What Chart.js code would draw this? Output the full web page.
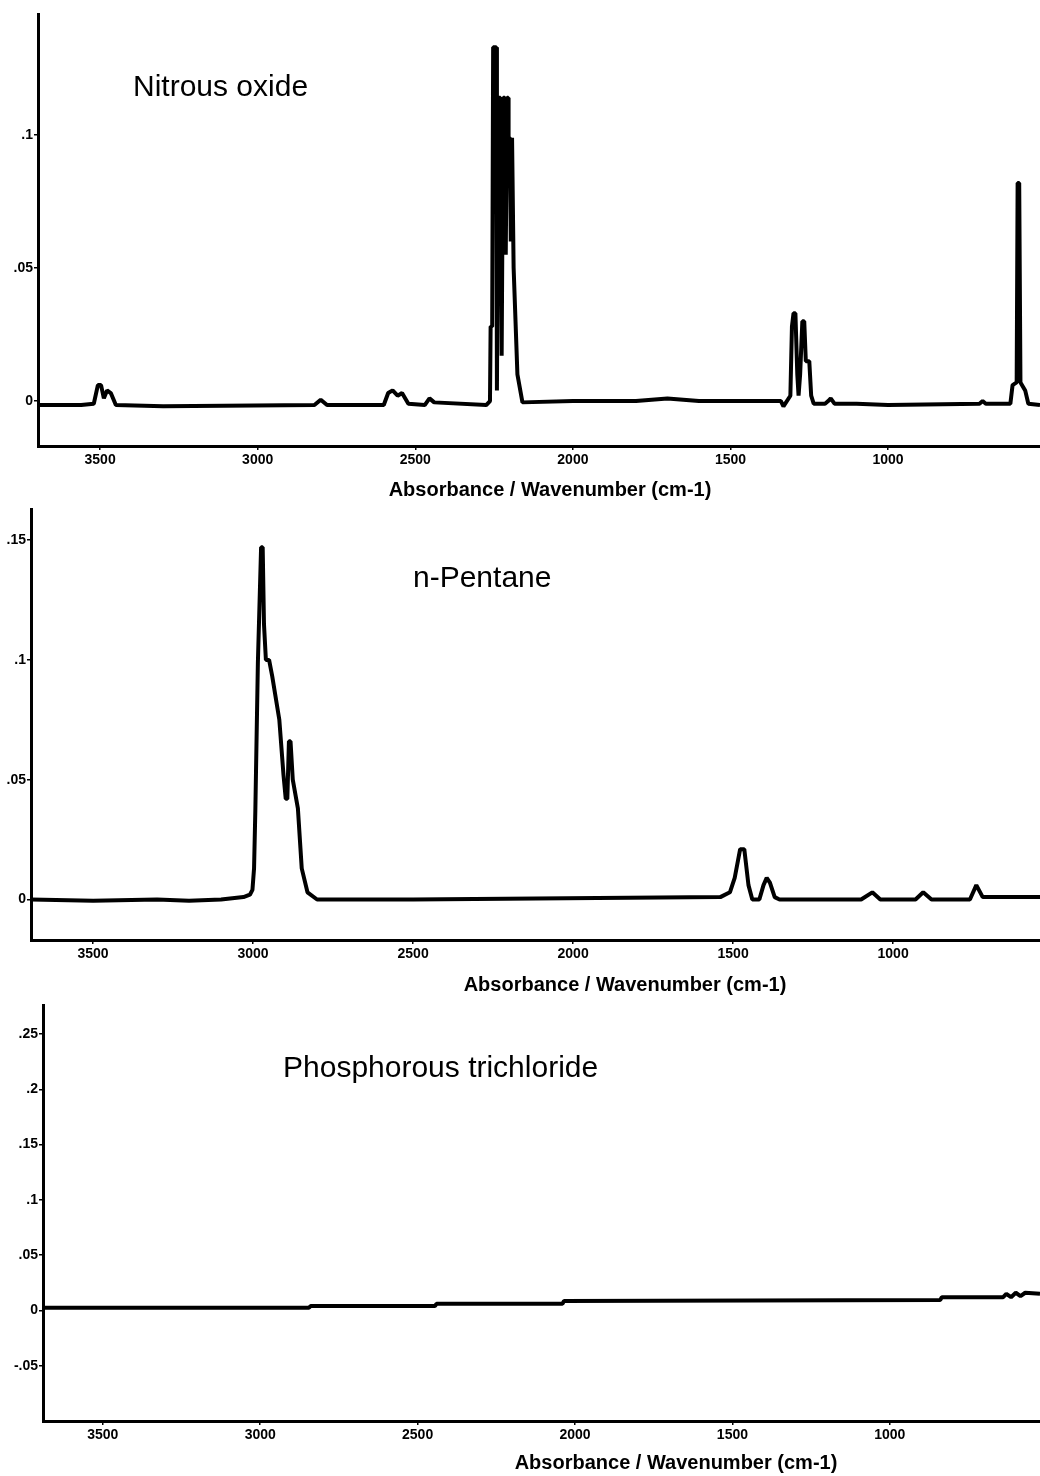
<!DOCTYPE html>
<html>
<head>
<meta charset="utf-8">
<title>IR spectra</title>
<script src="https://cdn.jsdelivr.net/npm/chart.js@4.4.1/dist/chart.umd.min.js"></script>
<style>
  html, body { margin: 0; padding: 0; background: #fff; }
  #page { position: relative; width: 1040px; height: 1476px; overflow: hidden; }
  canvas { position: absolute; left: 0; }
</style>
</head>
<body>
<div id="page">
  <canvas id="n2o-chart" width="1040" height="500" style="top:0"></canvas>
  <canvas id="pentane-chart" width="1040" height="500" style="top:500px"></canvas>
  <canvas id="pcl3-chart" width="1040" height="480" style="top:996px"></canvas>
</div>
<script>
// tick values
const xTicks = [3500, 3000, 2500, 2000, 1500, 1000];
const n2oYTicks = [0, 0.05, 0.1];
const pentaneYTicks = [0, 0.05, 0.1, 0.15];
const pcl3YTicks = [-0.05, 0, 0.05, 0.1, 0.15, 0.2, 0.25];

// Nitrous oxide spectrum
const n2oWavenumber = [3697, 3560, 3520, 3507, 3497, 3488, 3478, 3466, 3450, 3300, 2820, 2800, 2780, 2600, 2586, 2572, 2556, 2542, 2522,
  2470, 2455, 2440, 2275, 2263, 2261, 2256, 2253, 2243, 2241, 2236, 2230, 2226, 2221, 2216, 2213, 2209, 2205, 2204, 2200, 2197, 2193,
  2190, 2188, 2176, 2160,
  2000, 1800, 1700, 1600, 1450, 1340, 1332, 1310, 1305, 1300, 1294, 1288, 1284, 1279, 1272, 1266, 1261, 1250, 1244, 1236,
  1200, 1190, 1182, 1170, 1100, 1000, 710, 700, 690, 650, 612, 605, 592, 589, 584, 580, 565, 555, 518];
const n2oAbsorbance = [-0.0015, -0.0015, -0.001, 0.006, 0.006, 0.001, 0.004, 0.003, -0.0015, -0.002, -0.0015, 0.0005, -0.0015, -0.0015, 0.003, 0.004, 0.002, 0.003, -0.001,
  -0.0015, 0.001, -0.0005, -0.0015, 0.000, 0.028, 0.028, 0.133, 0.133, 0.004, 0.114, 0.114, 0.017, 0.114, 0.114, 0.055, 0.114, 0.114, 0.099, 0.099, 0.060, 0.099,
  0.099, 0.050, 0.010, -0.0005,
  0.000, 0.000, 0.001, 0.000, 0.000, 0.000, -0.002, 0.002, 0.028, 0.033, 0.033, 0.010, 0.002, 0.010, 0.030, 0.030, 0.015, 0.015, 0.002, -0.001,
  -0.001, 0.000, 0.001, -0.001, -0.001, -0.0015, -0.001, 0.000, -0.001, -0.001, -0.001, 0.006, 0.007, 0.082, 0.082, 0.007, 0.004, -0.001, -0.0015];

// n-Pentane spectrum
const pentaneWavenumber = [3694, 3500, 3300, 3200, 3100, 3030, 3010, 3002, 2997, 2993, 2985, 2975, 2970, 2966, 2960, 2950, 2940, 2918,
  2905, 2898, 2893, 2888, 2883, 2876, 2860, 2848, 2830, 2800, 2500, 1540, 1510, 1495, 1478, 1465, 1452, 1440, 1418, 1405, 1395, 1385,
  1370, 1355, 1300, 1100, 1065, 1040, 930, 906, 880, 760, 740, 720, 541];
const pentaneAbsorbance = [0.000, -0.0005, 0.000, -0.0005, 0.000, 0.001, 0.002, 0.004, 0.013, 0.037, 0.099, 0.147, 0.147, 0.115, 0.100, 0.100, 0.093, 0.075,
  0.052, 0.042, 0.042, 0.066, 0.066, 0.050, 0.038, 0.013, 0.003, 0.000, 0.000, 0.001, 0.003, 0.009, 0.021, 0.021, 0.006, 0.000, 0.000, 0.006, 0.009, 0.007,
  0.001, 0.000, 0.000, 0.000, 0.003, 0.000, 0.000, 0.003, 0.000, 0.000, 0.006, 0.001, 0.001];

// Phosphorous trichloride spectrum
const pcl3Wavenumber = [3690, 2845, 2840, 2445, 2440, 2040, 2035, 840, 835, 640, 630, 615, 600, 585, 570, 523];
const pcl3Absorbance = [0.0025, 0.0025, 0.004, 0.004, 0.006, 0.006, 0.0085, 0.0095, 0.012, 0.012, 0.015, 0.012, 0.016, 0.013, 0.016, 0.015];

const FONT = '"Liberation Sans", Arial, sans-serif';

const panelText = {
    id: 'panelText',
    afterDraw(chart, args, opts) {
        const ctx = chart.ctx;
        ctx.save();
        ctx.fillStyle = '#000';
        ctx.textBaseline = 'middle';
        ctx.textAlign = 'left';
        ctx.font = '30px ' + FONT;
        ctx.fillText(opts.title, opts.titleX, opts.titleY);
        ctx.textAlign = 'center';
        ctx.font = 'bold 20px ' + FONT;
        ctx.fillText('Absorbance / Wavenumber (cm-1)', opts.axisX, opts.axisY, 324);
        ctx.restore();
    }
};

function yLabel(v) {
    if (v === 0) return '0';
    return String(v).replace('0.', '.');
}

function makeSpectrum(id, wn, abs, yTicks, box) {
    const ctx = document.getElementById(id).getContext('2d');
    new Chart(ctx, {
        type: 'line',
        data: {
            datasets: [{
                data: wn.map((w, i) => ({ x: w, y: abs[i] })),
                borderColor: '#000',
                borderWidth: 4,
                borderJoinStyle: 'bevel',
                pointRadius: 0,
                tension: 0,
                fill: false
            }]
        },
        options: {
            responsive: false,
            animation: false,
            layout: { padding: { top: box.top, right: 0, left: 0, bottom: 0 } },
            plugins: {
                legend: { display: false },
                tooltip: { enabled: false },
                panelText: box.text
            },
            scales: {
                x: {
                    type: 'linear',
                    reverse: true,
                    min: box.xMin,
                    max: box.xMax,
                    afterBuildTicks: s => { s.ticks = xTicks.map(v => ({ value: v })); },
                    afterFit: s => { s.height = box.xHeight; },
                    grid: { drawOnChartArea: false, drawTicks: true, tickLength: 4, color: '#000', lineWidth: 1.5 },
                    border: { display: true, color: '#000', width: 3 },
                    ticks: {
                        autoSkip: false, maxRotation: 0, padding: 2,
                        color: '#000', font: { family: FONT, size: 14, weight: 'bold' },
                        callback: v => String(v)
                    }
                },
                y: {
                    type: 'linear',
                    min: box.yMin,
                    max: box.yMax,
                    afterBuildTicks: s => { s.ticks = yTicks.map(v => ({ value: v })); },
                    afterFit: s => { s.width = box.left; },
                    grid: { drawOnChartArea: false, drawTicks: true, tickLength: 4, color: '#000', lineWidth: 1.5 },
                    border: { display: true, color: '#000', width: 3 },
                    ticks: {
                        autoSkip: false, padding: 1,
                        color: '#000', font: { family: FONT, size: 14, weight: 'bold' },
                        callback: yLabel
                    }
                }
            }
        },
        plugins: [panelText]
    });
}

makeSpectrum('n2o-chart', n2oWavenumber, n2oAbsorbance, n2oYTicks, {
    left: 38, top: 14, xHeight: 54, xMin: 518, xMax: 3697, yMin: -0.0169, yMax: 0.1455,
    text: { title: 'Nitrous oxide', titleX: 133, titleY: 88, axisX: 550, axisY: 490 }
});
makeSpectrum('pentane-chart', pentaneWavenumber, pentaneAbsorbance, pentaneYTicks, {
    left: 31, top: 5, xHeight: 60, xMin: 541, xMax: 3694, yMin: -0.0169, yMax: 0.1628,
    text: { title: 'n-Pentane', titleX: 413, titleY: 79, axisX: 625, axisY: 485 }
});
makeSpectrum('pcl3-chart', pcl3Wavenumber, pcl3Absorbance, pcl3YTicks, {
    left: 43, top: 2, xHeight: 55, xMin: 523, xMax: 3690, yMin: -0.1, yMax: 0.2759,
    text: { title: 'Phosphorous trichloride', titleX: 283, titleY: 73, axisX: 676, axisY: 467 }
});
</script>
</body>
</html>
